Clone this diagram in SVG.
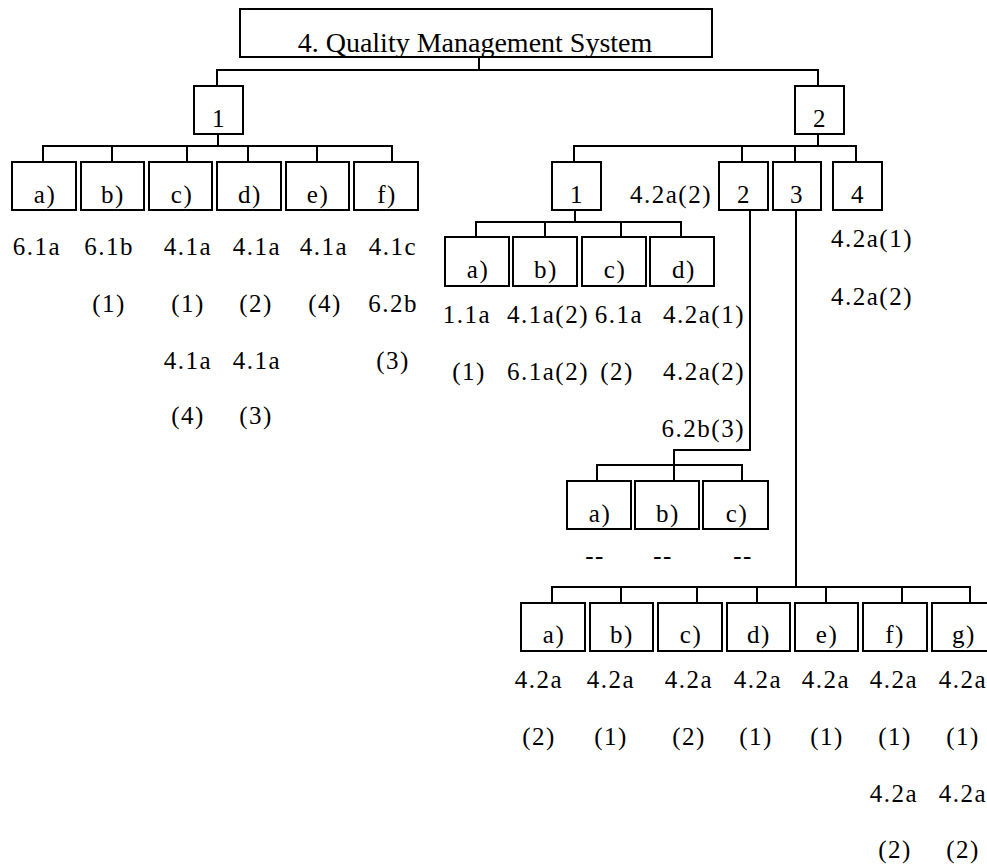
<svg xmlns="http://www.w3.org/2000/svg" width="987" height="865" viewBox="0 0 987 865">
<style>
rect{fill:#fff;stroke:#000;stroke-width:2}
.c path{fill:none;stroke:#000;stroke-width:2}
text{font-family:"Liberation Serif","Times New Roman",serif;font-size:25px;fill:#000;text-anchor:middle;letter-spacing:1.5px}
.t{font-size:28px;letter-spacing:0}
.e{text-anchor:end}
</style>
<rect x="0" y="0" width="987" height="865" style="stroke:none"/>
<g class="c" id="connectors">
<path d="M479,57V70M217,86V70H818V86"/>
<path d="M218,134V146M43,162V146H392V162M112,146V162M187,146V162M248,146V162M317,146V162"/>
<path d="M818,134V146M574,162V146H856V162M742,146V162M795,146V162"/>
<path d="M575,210V222M476,237V222H681V237M545,222V237M621,222V237"/>
<path d="M750,207V450H674V465M597,481V465H742V481M674,465V481"/>
<path d="M796,207V587M552,603V587H970V603M621,587V603M697,587V603M757,587V603M826,587V603M902,587V603"/>
</g>
<g id="root"><rect x="240" y="9" width="472" height="48"/><text class="t" x="475" y="52">4. Quality Management System</text></g>
<g id="n1"><rect x="194" y="86" width="49" height="48"/><text x="219" y="127">1</text></g>
<g id="n2"><rect x="795" y="86" width="49" height="48"/><text x="820" y="127">2</text></g>
<g id="n1a"><rect x="12" y="162" width="64" height="48"/><text x="45" y="203">a)</text><text x="37" y="255">6.1a</text></g>
<g id="n1b"><rect x="81" y="162" width="63" height="48"/><text x="113" y="203">b)</text><text x="109" y="255">6.1b</text><text x="109" y="312">(1)</text></g>
<g id="n1c"><rect x="149" y="162" width="63" height="48"/><text x="182" y="203">c)</text><text x="188" y="255">4.1a</text><text x="188" y="312">(1)</text><text x="188" y="369">4.1a</text><text x="188" y="424">(4)</text></g>
<g id="n1d"><rect x="217" y="162" width="64" height="48"/><text x="250" y="203">d)</text><text x="257" y="255">4.1a</text><text x="256" y="312">(2)</text><text x="257" y="369">4.1a</text><text x="256" y="424">(3)</text></g>
<g id="n1e"><rect x="286" y="162" width="63" height="48"/><text x="318" y="203">e)</text><text x="324" y="255">4.1a</text><text x="325" y="312">(4)</text></g>
<g id="n1f"><rect x="354" y="162" width="64" height="48"/><text x="387" y="203">f)</text><text x="393" y="255">4.1c</text><text x="393" y="312">6.2b</text><text x="393" y="369">(3)</text></g>
<g id="n21"><rect x="552" y="162" width="49" height="48"/><text x="577" y="203">1</text></g>
<g id="n21a"><rect x="445" y="237" width="64" height="49"/><text x="478" y="278">a)</text><text x="467" y="323">1.1a</text><text x="469" y="380">(1)</text></g>
<g id="n21b"><rect x="513" y="237" width="64" height="49"/><text x="546" y="278">b)</text><text x="548" y="323">4.1a(2)</text><text x="548" y="380">6.1a(2)</text></g>
<g id="n21c"><rect x="582" y="237" width="64" height="49"/><text x="615" y="278">c)</text><text x="619" y="323">6.1a</text><text x="617" y="380">(2)</text></g>
<g id="n21d"><rect x="650" y="237" width="64" height="49"/><text x="684" y="278">d)</text><text class="e" x="745" y="323">4.2a(1)</text><text class="e" x="745" y="380">4.2a(2)</text><text class="e" x="745" y="437">6.2b(3)</text></g>
<g id="n22"><rect x="719" y="162" width="49" height="48"/><text x="744" y="203">2</text><text x="671" y="203">4.2a(2)</text></g>
<g id="n22a"><rect x="567" y="481" width="64" height="48"/><text x="600" y="522">a)</text><text x="595" y="564">--</text></g>
<g id="n22b"><rect x="635" y="481" width="64" height="48"/><text x="668" y="522">b)</text><text x="663" y="564">--</text></g>
<g id="n22c"><rect x="703" y="481" width="65" height="48"/><text x="737" y="522">c)</text><text x="743" y="564">--</text></g>
<g id="n23"><rect x="773" y="162" width="48" height="48"/><text x="797" y="203">3</text></g>
<g id="n23a"><rect x="521" y="603" width="64" height="48"/><text x="554" y="643">a)</text><text x="539" y="688">4.2a</text><text x="539" y="745">(2)</text></g>
<g id="n23b"><rect x="590" y="603" width="63" height="48"/><text x="622" y="643">b)</text><text x="611" y="688">4.2a</text><text x="611" y="745">(1)</text></g>
<g id="n23c"><rect x="658" y="603" width="64" height="48"/><text x="691" y="643">c)</text><text x="689" y="688">4.2a</text><text x="689" y="745">(2)</text></g>
<g id="n23d"><rect x="727" y="603" width="63" height="48"/><text x="759" y="643">d)</text><text x="758" y="688">4.2a</text><text x="756" y="745">(1)</text></g>
<g id="n23e"><rect x="795" y="603" width="63" height="48"/><text x="827" y="643">e)</text><text x="826" y="688">4.2a</text><text x="827" y="745">(1)</text></g>
<g id="n23f"><rect x="863" y="603" width="64" height="48"/><text x="895" y="643">f)</text><text x="894" y="688">4.2a</text><text x="895" y="745">(1)</text><text x="894" y="802">4.2a</text><text x="895" y="858">(2)</text></g>
<g id="n23g"><rect x="932" y="603" width="64" height="48"/><text x="964" y="643">g)</text><text x="963" y="688">4.2a</text><text x="963" y="745">(1)</text><text x="963" y="802">4.2a</text><text x="963" y="858">(2)</text></g>
<g id="n24"><rect x="833" y="162" width="49" height="48"/><text x="858" y="203">4</text><text x="872" y="247">4.2a(1)</text><text x="872" y="305">4.2a(2)</text></g>
</svg>
